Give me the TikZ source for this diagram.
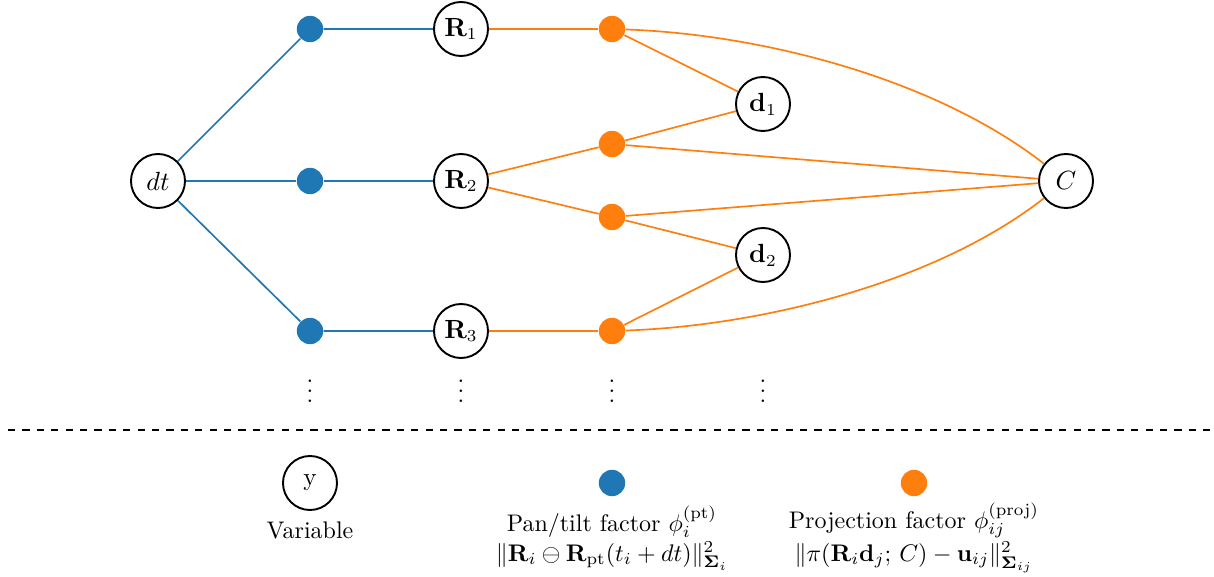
\documentclass[tikz,border=0pt]{standalone}
\usepackage{amsmath,amssymb,bm}
\definecolor{facblue}{RGB}{31,119,180}
\definecolor{facorange}{RGB}{255,127,14}
\tikzset{
  var/.style={circle, draw=black, line width=0.8pt, minimum size=22.5pt, inner sep=0pt, fill=white, font=\fontsize{10.5}{12}\selectfont},
  ptfac/.style={circle, fill=facblue, minimum size=11pt, inner sep=0pt},
  projfac/.style={circle, fill=facorange, minimum size=11pt, inner sep=0pt},
  ptedge/.style={draw=facblue, line width=0.7pt},
  projedge/.style={draw=facorange, line width=0.7pt},
}
\begin{document}
\begin{tikzpicture}[x=0.41667pt, y=-0.41667pt]
\useasboundingbox (0,0) rectangle (1214,577);

% variables
\node[var] (dt) at (158,181) {$dt$};
\node[var] (R1) at (461,29) {$\mathbf{R}_1$};
\node[var] (R2) at (461,181) {$\mathbf{R}_2$};
\node[var] (R3) at (461,331) {$\mathbf{R}_3$};
\node[var] (d1) at (763,104) {$\mathbf{d}_1$};
\node[var] (d2) at (763,255) {$\mathbf{d}_2$};
\node[var] (C)  at (1066,181) {$C$};

% pan/tilt factors
\node[ptfac] (b1) at (310,29) {};
\node[ptfac] (b2) at (310,181) {};
\node[ptfac] (b3) at (310,331) {};

% projection factors
\node[projfac] (f1) at (612,29) {};
\node[projfac] (f2) at (612,144) {};
\node[projfac] (f3) at (612,217) {};
\node[projfac] (f4) at (612,331) {};

% pan/tilt edges
\draw[ptedge] (dt) -- (b1) -- (R1);
\draw[ptedge] (dt) -- (b2) -- (R2);
\draw[ptedge] (dt) -- (b3) -- (R3);

% projection edges
\draw[projedge] (R1) -- (f1);
\draw[projedge] (f1) -- (d1);
\draw[projedge] (f1) to[out=-2, in=142, looseness=0.8] (C);
\draw[projedge] (R2) -- (f2);
\draw[projedge] (f2) -- (d1);
\draw[projedge] (f2) -- (C);
\draw[projedge] (R2) -- (f3);
\draw[projedge] (f3) -- (d2);
\draw[projedge] (f3) -- (C);
\draw[projedge] (R3) -- (f4);
\draw[projedge] (f4) -- (d2);
\draw[projedge] (f4) to[out=2, in=-142, looseness=0.8] (C);

% continuation dots
\node[inner sep=0pt] (v1) at (310,384) {$\vdots$};
\node[inner sep=0pt] (v2) at (461,384) {$\vdots$};
\node[inner sep=0pt] (v3) at (612,384) {$\vdots$};
\node[inner sep=0pt] (v4) at (763,384) {$\vdots$};

% separator
\coordinate (sepL) at (8,430);
\coordinate (sepR) at (1214,430);
\draw[dashed, line width=0.8pt] (sepL) -- (sepR);

% legend
\node[var] (ly) at (310,483) {y};
\node (lyt) at (310,530) {Variable};
\node[ptfac] (lb) at (612,483) {};
\node[align=center] (lbt) at (612,538) {Pan/tilt factor $\phi_i^{(\mathrm{pt})}$\\[0.5pt]
  $\|\mathbf{R}_i \ominus \mathbf{R}_{\mathrm{pt}}(t_i + dt)\|^2_{\boldsymbol{\Sigma}_i}$};
\node[projfac] (lo) at (914,483) {};
\node[align=center] (lot) at (914,538) {Projection factor $\phi_{ij}^{(\mathrm{proj})}$\\[0.5pt]
  $\|\pi(\mathbf{R}_i\mathbf{d}_j;\, C) - \mathbf{u}_{ij}\|^2_{\boldsymbol{\Sigma}_{ij}}$};
\end{tikzpicture}
\end{document}
